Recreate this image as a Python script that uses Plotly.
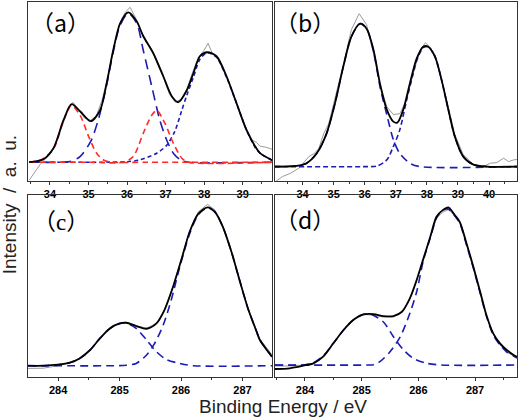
import plotly.graph_objects as go

# ---------------- Panel (a) ----------------
a_fit_E = [33.46, 33.83, 34.09, 34.35, 34.56, 34.78, 35.06, 35.30, 35.47, 35.64, 35.82, 36.03, 36.25,
           36.42, 36.68, 36.94, 37.16, 37.33, 37.55, 37.72, 37.89, 38.08, 38.32, 38.58, 38.84, 39.10,
           39.32, 39.45, 39.76]
a_fit_I = [0, 3, 14, 42, 58, 51, 41, 52, 79, 112, 139, 150, 141, 126, 109, 86, 66, 60, 72, 89, 106,
           110, 106, 86, 59, 32, 16, 9, 2]
a_raw_E = [33.46, 33.6, 33.75, 33.9, 34.1, 34.3, 34.45, 34.6, 34.75, 34.9, 35.05, 35.2, 35.35, 35.5,
           35.65, 35.8, 35.95, 36.08, 36.2, 36.35, 36.5, 36.65, 36.8, 36.95, 37.1, 37.25, 37.4, 37.55,
           37.7, 37.85, 38.0, 38.1, 38.2, 38.35, 38.5, 38.65, 38.8, 38.95, 39.1, 39.25, 39.35, 39.45,
           39.6, 39.76]
a_raw_I = [-18, -10, -2, 4, 14, 35, 50, 60, 52, 44, 42, 46, 62, 85, 113, 138, 150, 155, 146, 132, 122,
           112, 97, 84, 68, 60, 63, 73, 90, 105, 112, 119, 110, 104, 92, 78, 62, 48, 33, 22, 20, 16,
           15, 13]
a_red1_E = [33.46, 33.8, 34.1, 34.35, 34.55, 34.78, 35.0, 35.21, 35.4, 35.6, 36.5, 37.5, 39.76]
a_red1_I = [0, 3, 14, 41, 57, 47, 26, 9, 2, 0, 0, 0, 0]
a_red2_E = [33.46, 35.0, 35.9, 36.16, 36.42, 36.64, 36.77, 36.98, 37.2, 37.42, 37.6, 39.76]
a_red2_I = [0, 0, 0, 5.6, 29, 47, 52, 39, 19, 4, 0, 0]
a_blue1_E = [33.46, 34.3, 34.55, 34.78, 35.06, 35.25, 35.38, 35.47, 35.64, 35.82, 36.03, 36.25, 36.42,
             36.64, 36.85, 37.03, 37.2, 37.4, 37.6, 39.76]
a_blue1_I = [0, 0, 1, 5.6, 21, 42, 62, 77, 110, 137, 149, 139, 112, 76, 42, 22, 9, 2, 0, 0]
a_blue2_E = [33.46, 35.5, 36.0, 36.33, 36.77, 37.03, 37.24, 37.42, 37.55, 37.72, 37.89, 38.08, 38.32,
             38.58, 38.84, 39.10, 39.32, 39.45, 39.76]
a_blue2_I = [0, 0, 0.5, 2.3, 9, 17, 31, 52, 67, 85, 103, 109.6, 105, 85, 59, 32, 15, 9, 2]

# ---------------- Panel (b) ----------------
b_fit_E = [33.11, 33.81, 34.13, 34.45, 34.77, 35.04, 35.31, 35.57, 35.85, 36.06, 36.28, 36.49, 36.71,
           36.92, 37.05, 37.24, 37.45, 37.67, 37.88, 38.04, 38.26, 38.47, 38.69, 38.9, 39.17, 39.5,
           39.93, 40.9]
b_fit_I = [0, 0.7, 3.4, 13, 33, 63, 100, 130, 143, 138, 117, 83, 57, 45, 44, 57, 83, 108, 120, 120,
           110, 87, 57, 30, 10, 2, 0, 0]
b_raw_E = [33.13, 33.35, 33.62, 33.88, 34.2, 34.36, 34.52, 34.68, 34.84, 35.04, 35.31, 35.57, 35.82,
           36.06, 36.28, 36.49, 36.71, 36.92, 37.13, 37.35, 37.56, 37.77, 37.95, 38.09, 38.26, 38.47,
           38.69, 38.9, 39.17, 39.5, 39.82, 40.04, 40.25, 40.47, 40.63, 40.79, 40.9]
b_raw_I = [-15, -10, -6.6, -1.6, 10, 12.7, 18, 33, 43, 67, 102, 137, 153, 142, 113, 82, 60, 52, 53,
           67, 93, 115, 124, 120, 112, 88, 58, 32, 12, 2, 0, 3.4, 4, 8.4, 5, 6.7, 7]
b_blue1_E = [33.11, 33.81, 34.13, 34.45, 34.77, 35.04, 35.31, 35.57, 35.85, 36.06, 36.28, 36.49,
             36.71, 36.92, 37.13, 37.45, 37.77, 40.9]
b_blue1_I = [0, 0.7, 3.4, 13, 33, 63, 100, 130, 143, 138, 116, 80, 52, 27, 13, 3.4, 0, 0]
b_blue2_E = [33.11, 36.1, 36.39, 36.71, 36.92, 37.13, 37.35, 37.56, 37.67, 37.88, 38.04, 38.26,
             38.47, 38.69, 38.9, 39.17, 39.5, 39.93, 40.9]
b_blue2_I = [0, 0, 0.5, 6.7, 20, 37, 67, 93, 106, 119, 120, 110, 87, 57, 30, 10, 2, 0, 0]

# ---------------- Panel (c) ----------------
c_fit_E = [283.51, 283.76, 284.0, 284.19, 284.35, 284.52, 284.68, 284.84, 285.0, 285.11, 285.27,
           285.44, 285.6, 285.73, 285.87, 286.01, 286.14, 286.28, 286.43, 286.55, 286.68, 286.82,
           286.95, 287.09, 287.23, 287.28, 287.48]
c_fit_I = [0, 0, 1, 3, 7.3, 15.7, 27.3, 37.3, 42.3, 43, 39.7, 37, 42.3, 55.7, 79, 107, 134, 152,
           158.4, 154, 139, 114, 86, 57, 34, 26, 9]
c_raw_E = [283.51, 283.76, 284.0, 284.19, 284.35, 284.52, 284.68, 284.84, 285.0, 285.11, 285.27,
           285.44, 285.6, 285.73, 285.87, 286.01, 286.14, 286.28, 286.43, 286.55, 286.68, 286.82,
           286.95, 287.09, 287.23, 287.28, 287.48]
c_raw_I = [-2.7, -2.5, 0, 3, 7.5, 15.5, 27.5, 37.5, 42.5, 43.5, 40, 37.5, 42.5, 56, 79.5, 107.5, 135,
           154, 161.5, 156, 140, 114, 86, 57.5, 35, 27, 11]
c_blue1_E = [283.51, 283.76, 284.0, 284.19, 284.35, 284.52, 284.68, 284.84, 285.0, 285.11, 285.27,
             285.44, 285.6, 285.76, 285.98, 286.2, 287.48]
c_blue1_I = [0, 0, 1, 3, 7.3, 15.7, 27.3, 37, 42, 42.5, 37.4, 25.7, 14, 6.3, 2.3, 0, 0]
c_blue2_E = [283.51, 284.9, 285.11, 285.27, 285.44, 285.57, 285.71, 285.84, 285.98, 286.14, 286.28,
             286.43, 286.55, 286.68, 286.82, 286.95, 287.09, 287.23, 287.28, 287.48]
c_blue2_I = [0, 0, 0.5, 2.3, 10.7, 22.3, 40.7, 65.7, 99, 132, 151, 158, 154, 139, 114, 86, 57, 34,
             26, 9]

# ---------------- Panel (d) ----------------
d_fit_E = [283.47, 283.73, 283.97, 284.15, 284.32, 284.5, 284.68, 284.85, 285.03, 285.21, 285.38,
           285.56, 285.71, 285.85, 285.97, 286.09, 286.21, 286.32, 286.43, 286.53, 286.62, 286.73,
           286.85, 286.97, 287.09, 287.2, 287.32, 287.44, 287.56, 287.68, 287.74]
d_fit_I = [-4, -3.3, -0.7, 1.7, 8.3, 21.7, 35, 45, 50.7, 51, 49, 49, 53.3, 66.7, 85, 106.7, 128.3,
           148.3, 155, 157.7, 151.7, 143.3, 121.7, 98.3, 73.3, 50, 31.7, 21.7, 15, 10, 8.3]
d_raw_E = [283.47, 283.73, 283.97, 284.15, 284.32, 284.5, 284.68, 284.85, 285.03, 285.21, 285.38,
           285.56, 285.71, 285.85, 285.97, 286.09, 286.21, 286.32, 286.43, 286.53, 286.62, 286.73,
           286.85, 286.97, 287.09, 287.2, 287.32, 287.44, 287.56, 287.68, 287.74]
d_raw_I = [-1, -1, 0, 2, 8.5, 21.5, 35, 45, 50.5, 50, 48, 48, 53, 66, 84.5, 106, 127, 147, 153,
           155.5, 150.5, 142, 121, 97, 72, 49, 31, 20, 13, 9, 8]
d_blue1_E = [283.47, 283.97, 284.15, 284.32, 284.5, 284.68, 284.85, 285.03, 285.15, 285.38, 285.56,
             285.74, 285.91, 286.15, 286.4, 287.74]
d_blue1_I = [0, 0, 2.3, 9, 21.7, 35, 45, 50.5, 51, 43.3, 28.3, 15, 6.7, 1.7, 0, 0]
d_blue2_E = [283.47, 285.1, 285.21, 285.32, 285.5, 285.68, 285.85, 285.97, 286.09, 286.21, 286.32,
             286.43, 286.53, 286.62, 286.73, 286.85, 286.97, 287.09, 287.2, 287.32, 287.44, 287.56,
             287.68, 287.74]
d_blue2_I = [0, 0, 0.3, 3.3, 13.3, 28.3, 51.7, 73.3, 105, 127, 147, 155, 156, 151, 142, 120, 97, 72,
             49, 30, 20, 13, 9, 7]

panel_labels = ["（a）", "（b）", "（<span style=\"font-family:'Liberation Serif'\">c</span>）", "（d）"]
x_title = "Binding Energy / eV"
y_title = "Intensity\u00a0\u00a0/\u00a0\u00a0a.\u00a0\u00a0u."

BLUE = "#1c1cb4"
RED = "#ff2a2a"
GRAY = "#9a9a9a"

fig = go.Figure()


def add_panel(xa, ya, raw, comps, fit):
    xref = "x" if xa == 1 else f"x{xa}"
    yref = "y" if ya == 1 else f"y{ya}"
    fig.add_trace(go.Scatter(x=raw[0], y=raw[1], mode="lines", line=dict(color=GRAY, width=1),
                             xaxis=xref, yaxis=yref, showlegend=False, hoverinfo="skip"))
    for E, I, col, dash in comps:
        fig.add_trace(go.Scatter(x=E, y=I, mode="lines",
                                 line=dict(color=col, width=1.6, dash=dash, shape="spline", smoothing=0.8),
                                 xaxis=xref, yaxis=yref, showlegend=False, hoverinfo="skip"))
    fig.add_trace(go.Scatter(x=fit[0], y=fit[1], mode="lines",
                             line=dict(color="black", width=1.8, shape="spline", smoothing=0.8),
                             xaxis=xref, yaxis=yref, showlegend=False, hoverinfo="skip"))


add_panel(1, 1, (a_raw_E, a_raw_I),
          [(a_blue1_E, a_blue1_I, BLUE, "10px,6px"), (a_blue2_E, a_blue2_I, BLUE, "4px,3px"),
           (a_red1_E, a_red1_I, RED, "6px,4px"), (a_red2_E, a_red2_I, RED, "6px,4px")],
          (a_fit_E, a_fit_I))
add_panel(2, 2, (b_raw_E, b_raw_I),
          [(b_blue1_E, b_blue1_I, BLUE, "8px,5px"), (b_blue2_E, b_blue2_I, BLUE, "5px,3px")],
          (b_fit_E, b_fit_I))
add_panel(3, 3, (c_raw_E, c_raw_I),
          [(c_blue1_E, c_blue1_I, BLUE, "8px,5px"), (c_blue2_E, c_blue2_I, BLUE, "8px,5px")],
          (c_fit_E, c_fit_I))
add_panel(4, 4, (d_raw_E, d_raw_I),
          [(d_blue1_E, d_blue1_I, BLUE, "8px,5px"), (d_blue2_E, d_blue2_I, BLUE, "8px,5px")],
          (d_fit_E, d_fit_I))

xdom_l = [0, 0.499]
xdom_r = [0.505, 1]
ydom_t = [0.523, 1]
ydom_b = [0, 0.485]

common_x = dict(showline=True, linecolor="#333333", linewidth=1, mirror=True, showgrid=False,
                zeroline=False, ticks="outside", ticklen=3, tickcolor="#333333", dtick=1,
                tickfont=dict(family="Liberation Sans", size=11, color="black", weight="bold"),
                minor=dict(ticks="outside", ticklen=2, dtick=0.5, tickcolor="#333333"))
common_y = dict(showline=True, linecolor="#333333", linewidth=1, mirror=True, showgrid=False,
                zeroline=False, showticklabels=False, ticks="")

fig.update_layout(
    xaxis=dict(domain=xdom_l, anchor="y", range=[33.43, 39.76], **common_x),
    yaxis=dict(domain=ydom_t, anchor="x", range=[-18.7, 160.3], **common_y),
    xaxis2=dict(domain=xdom_r, anchor="y2", range=[33.11, 40.9], **common_x),
    yaxis2=dict(domain=ydom_t, anchor="x2", range=[-14.3, 164.7], **common_y),
    xaxis3=dict(domain=xdom_l, anchor="y3", range=[283.51, 287.48], **common_x),
    yaxis3=dict(domain=ydom_b, anchor="x3", range=[-11.3, 170.7], **common_y),
    xaxis4=dict(domain=xdom_r, anchor="y4", range=[283.47, 287.74], **common_x),
    yaxis4=dict(domain=ydom_b, anchor="x4", range=[-12, 170], **common_y),
    width=520, height=417,
    margin=dict(l=28, r=3, t=2, b=40),
    paper_bgcolor="white", plot_bgcolor="white",
    showlegend=False,
)

label_pos = [("x", "y", 0.135, 0.888), ("x2", "y2", 0.124, 0.888),
             ("x3", "y3", 0.135, 0.863), ("x4", "y4", 0.124, 0.868)]
for txt, (xr, yr, px, py) in zip(panel_labels, label_pos):
    fig.add_annotation(text=txt, xref=f"{xr} domain", yref=f"{yr} domain", x=px, y=py,
                       showarrow=False, xanchor="center", yanchor="middle",
                       font=dict(family="Noto Sans CJK SC", size=23, color="black"))

fig.add_annotation(text=x_title, xref="paper", yref="paper", x=0.521, y=-0.078,
                   showarrow=False, xanchor="center", yanchor="middle",
                   font=dict(family="Liberation Sans", size=19, color="#222222"))
fig.add_annotation(text=y_title, xref="paper", yref="paper", x=-0.038, y=0.459, textangle=-90,
                   showarrow=False, xanchor="center", yanchor="middle",
                   font=dict(family="Liberation Sans", size=19, color="#222222"))

fig.write_html("out.html", config={"displayModeBar": False},
               post_script="document.body.style.margin='0px';document.body.style.overflow='hidden';")
